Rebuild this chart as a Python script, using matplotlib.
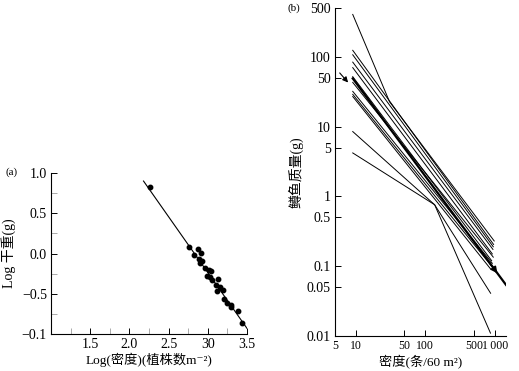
import matplotlib.pyplot as plt

plt.rcParams['font.family'] = ['Liberation Serif', 'Noto Sans CJK SC', 'DejaVu Serif']
plt.rcParams['axes.unicode_minus'] = True

# (a) log density vs log dry weight
a_x = [2.26, 2.76, 2.87, 2.91, 2.82, 2.89, 2.93, 2.90, 2.96, 3.01, 3.04, 2.99, 3.03,
       3.05, 3.13, 3.10, 3.15, 3.12, 3.19, 3.21, 3.25, 3.29, 3.30, 3.38, 3.44]
a_y = [0.82, 0.08, 0.06, 0.01, -0.02, -0.07, -0.09, -0.12, -0.18, -0.20, -0.22, -0.28, -0.29,
       -0.33, -0.32, -0.39, -0.41, -0.46, -0.45, -0.57, -0.62, -0.66, -0.64, -0.71, -0.86]
fit_x = [2.18, 3.50]
fit_y = [0.90, -0.93]
a_yticks = [1.0, 0.5, 0.0, -0.5, -1.0]
a_yticklabels = ['1.0', '0.5', '0.0', '\u22120.5', '\u22120.1']
a_xticks = [1.5, 2.0, 2.5, 3.0, 3.5]
a_xticklabels = ['1.5', '2.0', '2.5', '30', '3.5']

# (b) trout cohorts: density (per 60 m2) vs mass (g)
b_lines_x = [
    [9, 30.5, 980],
    [9, 960],
    [9, 950],
    [9, 940],
    [9, 920],
    [9, 900],
    [9, 950],
    [9, 920],
    [9, 900],
    [9, 880],
    [9, 136, 870],
    [9, 136, 866],
]
b_lines_y = [
    [405, 22.7, 0.23],
    [124, 0.205],
    [107, 0.19],
    [84, 0.174],
    [70, 0.15],
    [52, 0.12],
    [43, 0.135],
    [32, 0.11],
    [29, 0.10],
    [27, 0.09],
    [8.5, 0.76, 0.041],
    [4.2, 0.76, 0.011],
]
mean_x = [9, 1450]
mean_y = [49, 0.054]
b_yticks = [500, 100, 50, 10, 5, 1, 0.5, 0.1, 0.05, 0.01]
b_yticklabels = ['500', '100', '50', '10', '5', '1', '0.5', '0.1', '0.05', '0.01']
b_xticks = [5, 10, 50, 100, 500, 1000]
b_xticklabels = ['5', '10', '50', '100', '500', '1\u2009000']

fig = plt.figure(figsize=(5.19, 3.71), dpi=100)

ax1 = fig.add_axes([0.0983, 0.0997, 0.3776, 0.434])
ax1.plot(fit_x, fit_y, 'k-', lw=0.8)
ax1.plot(a_x, a_y, 'ko', ms=3.2)
ax1.set_xlim(1.0, 3.5)
ax1.set_ylim(-1.0, 1.0)
ax1.set_xticks(a_xticks)
ax1.set_xticklabels(a_xticklabels)
ax1.set_xticks([1.25, 1.75, 2.25, 2.75, 3.25], minor=True)
ax1.set_yticks(a_yticks)
ax1.set_yticklabels(a_yticklabels)
ax1.set_yticks([0.75, 0.25, -0.25, -0.75], minor=True)
ax1.tick_params(direction='in', labelsize=10, length=4, width=0.7, pad=3)
ax1.tick_params(which='minor', direction='in', length=4, width=0.7, colors='#aaaaaa')
for s in ['top', 'right']:
    ax1.spines[s].set_visible(False)
ax1.spines['left'].set_linewidth(0.8)
ax1.spines['bottom'].set_linewidth(0.8)
ax1.set_xlabel('Log(密度)(植株数m\u207b\u00b2)', fontsize=9.5, labelpad=1)
ax1.set_ylabel('Log 干重(g)', fontsize=10, labelpad=4)
fig.text(0.01, 0.535, '(a)', fontsize=8, va='center')

ax2 = fig.add_axes([0.6455, 0.0943, 0.3295, 0.884])
for xs, ys in zip(b_lines_x, b_lines_y):
    ax2.plot(xs, ys, 'k-', lw=0.7)
ax2.plot(mean_x, mean_y, 'k-', lw=1.6)
ax2.set_xscale('log')
ax2.set_yscale('log')
ax2.set_xlim(5, 1450)
ax2.set_ylim(0.01, 500)
ax2.set_xticks(b_xticks)
ax2.set_xticklabels(b_xticklabels, fontsize=8.5)
ax2.set_yticks(b_yticks)
ax2.set_yticklabels(b_yticklabels)
ax2.minorticks_off()
ax2.tick_params(direction='in', length=4, width=0.7, pad=3)
ax2.tick_params(axis='y', labelsize=10)
for s in ['top', 'right']:
    ax2.spines[s].set_visible(False)
ax2.spines['left'].set_linewidth(0.8)
ax2.spines['bottom'].set_linewidth(0.8)
ax2.set_xlabel('密度(条/60 m\u00b2)', fontsize=9.5, labelpad=2)
ax2.set_ylabel('鳟鱼质量(g)', fontsize=10, labelpad=2)
ax2.annotate('', xy=(8.2, 40), xytext=(5.5, 63),
             arrowprops=dict(arrowstyle='-|>', color='k', lw=0.8, mutation_scale=8))
ax2.annotate('', xy=(1150, 0.0735), xytext=(800, 0.12),
             arrowprops=dict(arrowstyle='-|>', color='k', lw=1.2, mutation_scale=9))
fig.text(0.553, 0.978, '(b)', fontsize=8, va='center')

fig.savefig('out.png', dpi=100)
